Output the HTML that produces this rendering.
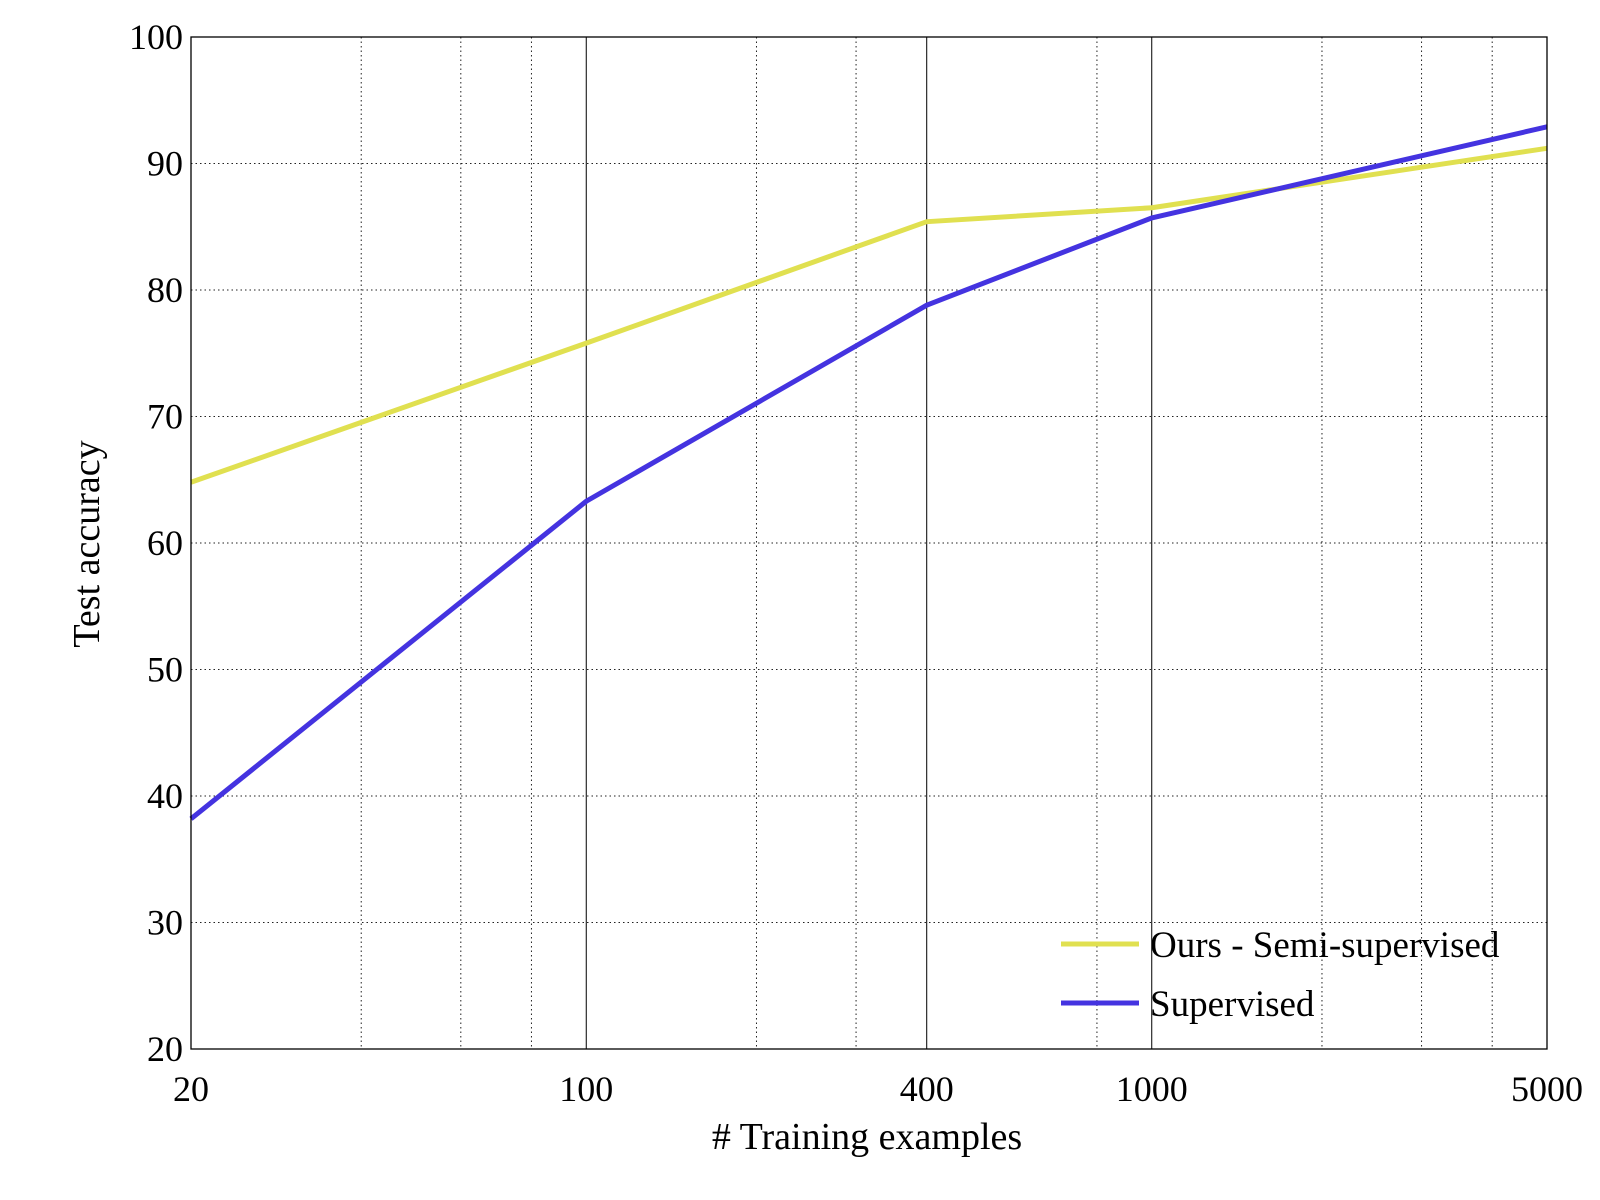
<!DOCTYPE html>
<html><head><meta charset="utf-8"><style>
body{margin:0;background:#fff;}
svg{display:block;font-family:"Liberation Serif",serif;}
</style></head><body>
<svg id="chart" width="1600" height="1200">
<g id="grid"></g><g id="series"></g><g id="axes"></g>
</svg>
<script>
const xVals = [20, 100, 400, 1000, 5000];
const oursVals = [64.8, 75.8, 85.4, 86.5, 91.2];
const supVals = [38.2, 63.3, 78.8, 85.7, 92.9];
const xTicks = [20, 100, 400, 1000, 5000];
const xMinor = [40, 60, 80, 200, 300, 800, 2000, 3000, 4000];
const yTicks = [20, 30, 40, 50, 60, 70, 80, 90, 100];
const L=191,R=1547,T=37,B=1049;
const NS='http://www.w3.org/2000/svg';
function xs(v){return L+(Math.log10(v/20)/Math.log10(5000/20))*(R-L);}
function ys(v){return B-(v-20)/80*(B-T);}
function mk(t,a,p){const e=document.createElementNS(NS,t);for(const k in a)e.setAttribute(k,a[k]);p.appendChild(e);return e;}
const grid=document.getElementById('grid'),axes=document.getElementById('axes'),ser=document.getElementById('series');
yTicks.forEach(v=>{
  const l=mk('line',{x1:L,x2:R,y1:ys(v),y2:ys(v),stroke:'#222','stroke-width':1,'stroke-dasharray':'1.5,3'},grid);
  
  
  const t=mk('text',{x:L-8,y:ys(v)+12,'text-anchor':'end','font-size':36},axes);t.textContent=v;
  
  
});
xMinor.forEach(v=>{
  const l=mk('line',{x1:xs(v),x2:xs(v),y1:T,y2:B,stroke:'#222','stroke-width':1,'stroke-dasharray':'1.5,3'},grid);
  
  
});
xTicks.forEach(v=>{
  const l=mk('line',{x1:xs(v),x2:xs(v),y1:T,y2:B,stroke:'#000','stroke-width':1},grid);
  
  
  const t=mk('text',{x:xs(v),y:1101,'text-anchor':'middle','font-size':36},axes);t.textContent=v;
  
  
});
const box=mk('rect',{x:L,y:T,width:R-L,height:B-T,fill:'none',stroke:'#000','stroke-width':1.3},axes);


function line(vals,color,name){
  const p=mk('polyline',{points:xVals.map((x,i)=>xs(x)+','+ys(vals[i])).join(' '),fill:'none',stroke:color,'stroke-width':5,'stroke-linejoin':'round'},ser);
  
  
}
line(oursVals,'#e0e050','ours-line');
line(supVals,'#4433e0','supervised-line');
const xt=mk('text',{x:867,y:1149,'text-anchor':'middle','font-size':38},axes);xt.textContent='# Training examples';


const yt=mk('text',{x:0,y:0,'text-anchor':'middle','font-size':38,transform:'translate(99,544) rotate(-90)'},axes);yt.textContent='Test accuracy';


[['Ours - Semi-supervised','#e0e050',944],['Supervised','#4433e0',1003]].forEach(([n,c,y])=>{
  const l=mk('line',{x1:1061,x2:1139,y1:y,y2:y,stroke:c,'stroke-width':5},axes);
  
  
  const t=mk('text',{x:1150,y:y+13,'font-size':37},axes);t.textContent=n;
  
  
});
</script>
</body></html>
